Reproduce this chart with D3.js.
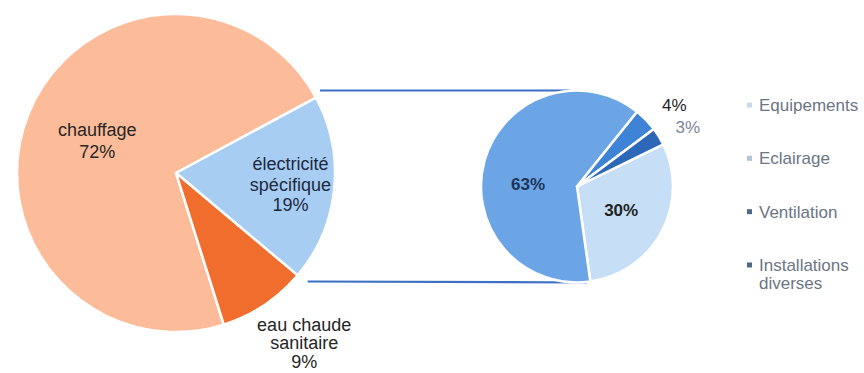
<!DOCTYPE html>
<html><head><meta charset="utf-8">
<script src="https://cdn.jsdelivr.net/npm/d3@7"></script>
<style>body{margin:0;background:#fff}svg{display:block}text{font-family:"Liberation Sans",Arial,sans-serif}</style>
</head><body><svg id="c" width="864" height="373"></svg>
<script>
// ---- data ----
const mainCategories = ["chauffage", "électricité spécifique", "eau chaude sanitaire"];
const mainValues = [72, 19, 9];
const subCategories = ["Equipements", "Eclairage", "Ventilation", "Installations diverses"];
const subValues = [30, 63, 4, 3];

const svg = d3.select("#c");
const deg = Math.PI / 180;

// ---- main pie ----
const c1 = {x: 176, y: 173}, r1 = 159;
const mainColors = ["#FDBC99", "#A8CDF2", "#F06D2E"];
const pie1 = d3.pie().sort(null).startAngle(162.5 * deg).endAngle(162.5 * deg + 2 * Math.PI);
const arcs1 = pie1(mainValues);
const arc1 = d3.arc().innerRadius(0).outerRadius(r1);
const g1 = svg.append("g").attr("transform", `translate(${c1.x},${c1.y})`);
g1.selectAll("path").data(arcs1).join("path")
  .attr("d", arc1).attr("fill", (d, i) => mainColors[i])
  .attr("stroke", "#fff").attr("stroke-width", 2.5).attr("stroke-linejoin", "round");

const mainLabelR = [85, 115, 217];
const mainAngleShift = [0, 0, -2.5];
const mainLineH = [22, 20.5, 18.5];
const mainDy = [6, 6, 1];
const mainLines = [["chauffage", "72%"], ["électricité", "spécifique", "19%"], ["eau chaude", "sanitaire", "9%"]];
const mainTextColor = ["#262626", "#1b2940", "#262626"];
arcs1.forEach((a, i) => {
  const m = (a.startAngle + a.endAngle) / 2 - Math.PI / 2 + mainAngleShift[i] * deg;
  const lx = Math.cos(m) * mainLabelR[i], ly = Math.sin(m) * mainLabelR[i];
  const lines = mainLines[i];
  lines[lines.length - 1] = mainValues[i] + "%";
  const lh = mainLineH[i];
  const t = g1.append("text").attr("text-anchor", "middle").attr("font-size", 18)
    .attr("fill", mainTextColor[i]);
  lines.forEach((s, k) => {
    t.append("tspan").attr("x", lx).attr("y", ly + (k - (lines.length - 1) / 2) * lh + mainDy[i]).text(s);
  });
});

// ---- sub pie ----
const c2 = {x: 577, y: 186.5}, r2 = 96;
const subColors = ["#C6DEF6", "#6BA5E6", "#3F83D6", "#2C67B8"];
const pie2 = d3.pie().sort(null).startAngle(64 * deg).endAngle(64 * deg + 2 * Math.PI);
const arcs2 = pie2(subValues);
const arc2 = d3.arc().innerRadius(0).outerRadius(r2);

// connector lines
const elec = arcs1[1];
const p1 = [c1.x + Math.sin(elec.startAngle) * r1, c1.y - Math.cos(elec.startAngle) * r1];
const p2 = [c1.x + Math.sin(elec.endAngle) * r1, c1.y - Math.cos(elec.endAngle) * r1];
svg.append("line").attr("x1", p1[0] + 4).attr("y1", c2.y - r2).attr("x2", c2.x - 7).attr("y2", c2.y - r2)
  .attr("stroke", "#3C70C2").attr("stroke-width", 2.2);
svg.append("line").attr("x1", p2[0] + 10).attr("y1", c2.y + r2 - 1).attr("x2", c2.x + 10).attr("y2", c2.y + r2)
  .attr("stroke", "#3C70C2").attr("stroke-width", 2.2);

const g2 = svg.append("g").attr("transform", `translate(${c2.x},${c2.y})`);
g2.selectAll("path").data(arcs2).join("path")
  .attr("d", arc2).attr("fill", (d, i) => subColors[i])
  .attr("stroke", "#fff").attr("stroke-width", 2.5).attr("stroke-linejoin", "round");

const subLabelR = [50, 49, 127, 126];
const subAngleShift = [0, -12, 4, 3];
const subTextColor = ["#222", "#1c3657", "#222", "#7a8798"];
const subWeight = ["bold", "bold", "normal", "normal"];
arcs2.forEach((a, i) => {
  const m = (a.startAngle + a.endAngle) / 2 - Math.PI / 2 + subAngleShift[i] * deg;
  g2.append("text").attr("text-anchor", "middle").attr("font-size", 17)
    .attr("font-weight", subWeight[i]).attr("fill", subTextColor[i])
    .attr("x", Math.cos(m) * subLabelR[i]).attr("y", Math.sin(m) * subLabelR[i] + 6)
    .text(subValues[i] + "%");
});

// ---- legend ----
const legColors = ["#CCD9E6", "#B3C4D6", "#4F6A88", "#4F6A88"];
const legY = d3.scalePoint().domain(subCategories).range([105, 265]);
const leg = svg.append("g");
subCategories.forEach((name, i) => {
  const y = legY(name);
  leg.append("rect").attr("x", 747).attr("y", y - 2.5).attr("width", 5).attr("height", 5).attr("fill", legColors[i]);
  const words = name === "Installations diverses" ? ["Installations", "diverses"] : [name];
  const t = leg.append("text").attr("font-size", 17).attr("fill", "#6b7584");
  words.forEach((w, k) => t.append("tspan").attr("x", 759).attr("y", y + 6 + k * 18).text(w));
});
</script></body></html>
